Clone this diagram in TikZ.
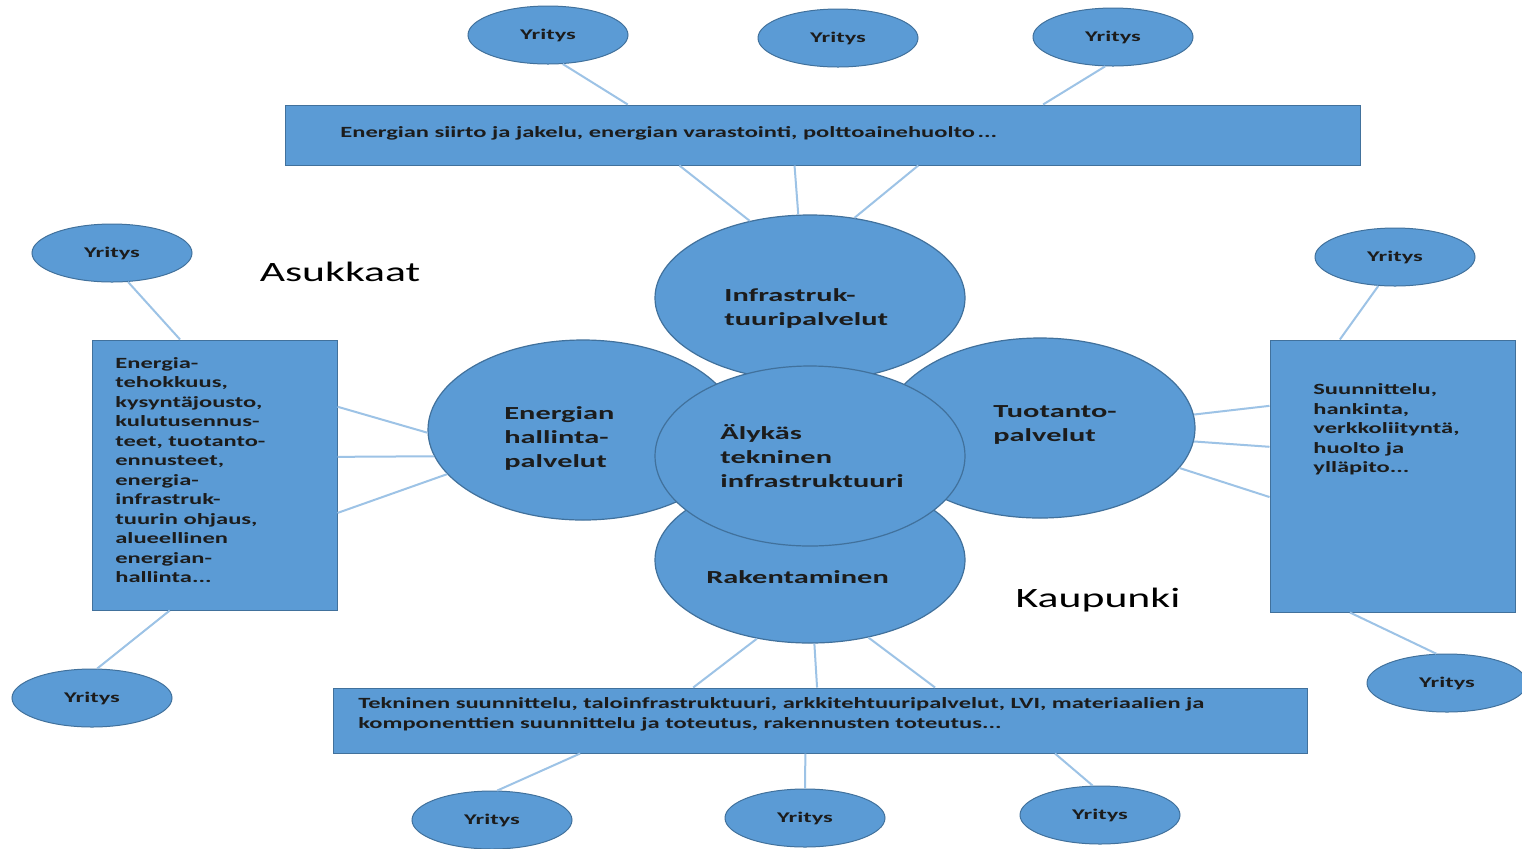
\documentclass[tikz,border=0pt]{standalone}
\usepackage{fontspec}
\setmainfont{Carlito}
% wide-set lettering used throughout the chart
\newfontfamily\panelfont[FakeStretch=1.57]{Carlito}
\newfontfamily\blobfont[FakeStretch=1.65]{Carlito}
\newfontfamily\firmfont[FakeStretch=1.65]{Carlito}
\newfontfamily\bigfont[FakeStretch=1.56]{Carlito}
\usetikzlibrary{shapes.geometric,calc}

\definecolor{blobfill}{HTML}{5B9BD5}
\definecolor{blobline}{HTML}{41719C}
\definecolor{linkblue}{HTML}{9DC3E6}
\definecolor{inktext}{HTML}{1C1C1C}

\tikzset{
  firm/.style={ellipse, draw=blobline, line width=0.5pt, fill=blobfill,
    minimum width=80pt, minimum height=29pt, inner sep=0pt,
    text=inktext, font=\firmfont\bfseries\fontsize{7.4}{8}\selectfont},
  blob/.style={ellipse, draw=blobline, line width=0.6pt, fill=blobfill,
    minimum width=155pt, inner sep=0pt},
  panel/.style={rectangle, draw=blobline, line width=0.5pt, fill=blobfill, inner sep=0pt},
  paneltext/.style={anchor=west, align=left, inner sep=0pt, text=inktext,
    font=\panelfont\bfseries\fontsize{7.8}{9.75}\selectfont},
  blobtext/.style={anchor=west, align=left, inner sep=0pt, text=inktext,
    font=\blobfont\bfseries\fontsize{9.2}{12}\selectfont},
  bigword/.style={inner sep=0pt, text=black, font=\bigfont\fontsize{14}{16}\selectfont},
  link/.style={draw=linkblue, line width=1pt},
}

\begin{document}
\begin{tikzpicture}[x=0.5pt, y=-0.5pt]
\useasboundingbox (0,0) rectangle (1522,848);
\fill[white] (0,0) rectangle (1522,848);

% --- panels ---
\node[panel, minimum width=537.5pt, minimum height=30pt] (topbox) at (822.5,135) {};
\node[panel, minimum width=487pt, minimum height=32.5pt] (botbox) at (820,720.5) {};
\node[panel, minimum width=122.5pt, minimum height=135pt] (lbox) at (214.5,475) {};
\node[panel, minimum width=122.5pt, minimum height=136pt] (rbox) at (1392.5,476) {};

% --- company ellipses ---
\node[firm] (t1) at (548,35) {Yritys};
\node[firm] (t2) at (838,38) {Yritys};
\node[firm] (t3) at (1113,37) {Yritys};
\node[firm] (l1) at (112,253) {Yritys};
\node[firm] (l2) at (92,698) {Yritys};
\node[firm] (r1) at (1395,257) {Yritys};
\node[firm] (r2) at (1447,683) {Yritys};
\node[firm] (b1) at (492,820) {Yritys};
\node[firm] (b2) at (805,818) {Yritys};
\node[firm] (b3) at (1100,815) {Yritys};

% --- central cluster ---
\node[blob, minimum height=83pt] (infra) at (810,298) {};
\node[blob, minimum height=90pt] (energy) at (583,430) {};
\node[blob, minimum height=90pt] (prod) at (1040,428) {};
\node[blob, minimum height=83pt] (build) at (810,560) {};
\node[blob, minimum height=90pt] (core) at (810,456) {};

% --- connectors ---
\begin{scope}[link]
  \draw (t1.-63) -- ($(topbox.north west)!0.319!(topbox.north east)$);
  \draw (t3.-105) -- ($(topbox.north west)!0.705!(topbox.north east)$);
  \draw ($(topbox.south west)!0.367!(topbox.south east)$) -- (infra.128);
  \draw ($(topbox.south west)!0.474!(topbox.south east)$) -- (infra.98);
  \draw ($(topbox.south west)!0.589!(topbox.south east)$) -- (infra.61);

  \draw (l1.-61) -- ($(lbox.north west)!0.36!(lbox.north east)$);
  \draw ($(lbox.south west)!0.318!(lbox.south east)$) -- (l2.80);
  \draw ($(lbox.north east)!0.248!(lbox.south east)$) -- (energy.181);
  \draw ($(lbox.north east)!0.433!(lbox.south east)$) -- (energy.190);
  \draw ($(lbox.north east)!0.640!(lbox.south east)$) -- (energy.198);

  \draw (prod.5) -- ($(rbox.north west)!0.243!(rbox.south west)$);
  \draw (prod.-5) -- ($(rbox.north west)!0.393!(rbox.south west)$);
  \draw (prod.-16) -- ($(rbox.north west)!0.577!(rbox.south west)$);
  \draw (r1.-120) -- ($(rbox.north west)!0.286!(rbox.north east)$);
  \draw ($(rbox.south west)!0.327!(rbox.south east)$) -- (r2.110);

  \draw (build.-124) -- ($(botbox.north west)!0.370!(botbox.north east)$);
  \draw (build.-87) -- ($(botbox.north west)!0.497!(botbox.north east)$);
  \draw (build.-53) -- ($(botbox.north west)!0.618!(botbox.north east)$);
  \draw ($(botbox.south west)!0.254!(botbox.south east)$) -- (b1.80);
  \draw ($(botbox.south west)!0.485!(botbox.south east)$) -- (b2.90);
  \draw ($(botbox.south west)!0.741!(botbox.south east)$) -- (b3.104);
\end{scope}

% --- texts ---
\node[paneltext] (toptext) at (340,133)
  {Energian siirto ja jakelu, energian varastointi, polttoainehuolto\,...};
\node[paneltext] (bottext) at (358,714.5)
  {Tekninen suunnittelu, taloinfrastruktuuri, arkkitehtuuripalvelut, LVI, materiaalien ja\\
   komponenttien suunnittelu ja toteutus, rakennusten toteutus...};
\node[paneltext] (ltext) at (115,470)
  {Energia-\\tehokkuus,\\kysyntäjousto,\\kulutusennus-\\teet, tuotanto-\\ennusteet,\\energia-\\infrastruk-\\tuurin ohjaus,\\alueellinen\\energian-\\hallinta...};
\node[paneltext] (rtext) at (1313,429.5)
  {Suunnittelu,\\hankinta,\\verkkoliityntä,\\huolto ja\\ylläpito...};

\node[blobtext] (infratext) at (724,308) {Infrastruk-\\tuuripalvelut};
\node[blobtext] (energytext) at (504,438) {Energian\\hallinta-\\palvelut};
\node[blobtext] (prodtext) at (993,425) {Tuotanto-\\palvelut};
\node[blobtext] (coretext) at (720,456) {Älykäs\\tekninen\\infrastruktuuri};
\node[blobtext] (buildtext) at (706,577) {Rakentaminen};

\node[bigword] (residents) at (340,272) {Asukkaat};
\node[bigword] (city) at (1098,600) {Kaupunki};
\end{tikzpicture}
\end{document}
